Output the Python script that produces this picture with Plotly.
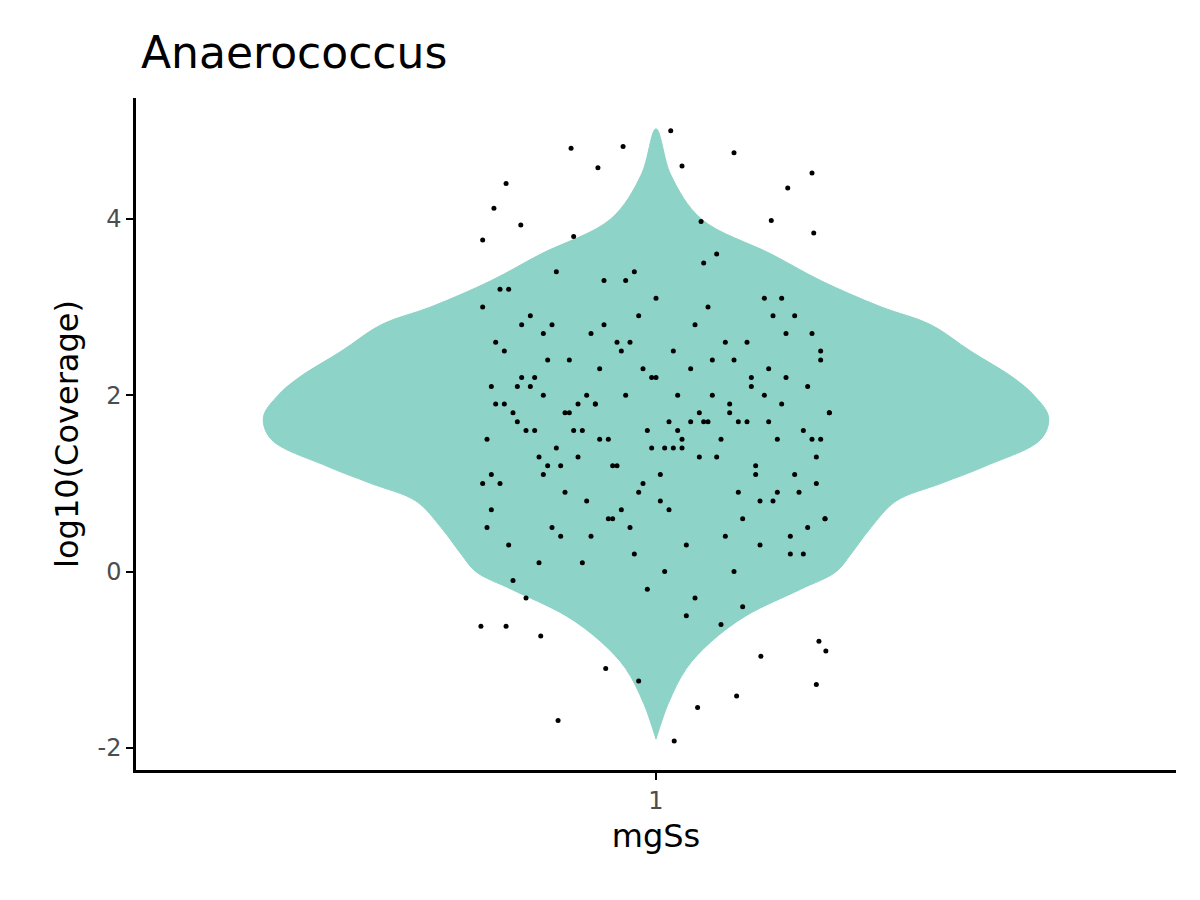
import plotly.graph_objects as go

# violin outline: y level and half-width (x units, category at x=1)
violin_y = [5.02, 4.5, 4.0, 3.6, 3.3, 3.0, 2.8, 2.5, 2.2, 2.0, 1.75, 1.5, 1.2, 1.0,
            0.8, 0.5, 0.2, 0.0, -0.2, -0.5, -0.8, -1.1, -1.5, -1.9]
violin_hw = [0.0, 0.017, 0.052, 0.133, 0.19, 0.26, 0.317, 0.363, 0.412, 0.436, 0.453,
             0.444, 0.381, 0.329, 0.277, 0.248, 0.225, 0.208, 0.167, 0.104, 0.063,
             0.035, 0.014, 0.0]

# jittered points (x, y)
pts_x = [
    0.887, 1.021, 0.942, 1.048, 1.093, 1.185, 0.902, 0.962, 1.017, 1.09, 1.18, 0.827,
    0.933, 1.03, 1.152, 0.813, 0.80, 0.844, 1.133, 1.182, 1.052, 0.798, 1.188, 1.196,
    0.827, 0.867, 1.121, 0.98,
    0.81, 0.85, 0.90, 0.95, 1.00, 1.05, 1.10, 1.15, 1.19, 0.83, 0.88, 0.93, 0.98, 1.03, 1.08, 1.13, 1.17, 0.82,
    0.87, 0.92, 0.97, 1.02, 1.07, 1.12, 1.16, 1.20, 0.84, 0.89, 0.94, 0.99, 1.04, 1.09, 1.14, 1.18, 0.80, 0.86,
    0.91, 0.96, 1.01, 1.06, 1.11, 1.165, 0.815, 0.865, 0.915, 0.965, 1.015, 1.065, 1.115, 1.195, 0.835, 0.885,
    0.935, 0.985, 1.035, 1.085, 1.135, 1.175, 0.805, 0.855, 0.905, 0.955, 1.005, 1.055, 1.105, 1.155, 0.825, 0.875,
    0.925, 0.975, 1.025, 1.075, 1.125, 1.185, 0.845, 0.895, 0.945, 0.995, 1.045, 1.095, 1.145, 1.19, 0.81, 0.86,
    0.91, 0.96, 1.01, 1.06, 1.11, 1.16, 0.83, 0.88, 0.93, 0.98, 1.03, 1.08, 1.13, 1.2, 0.82, 0.87,
    0.92, 0.97, 1.02, 1.07, 1.12, 1.17, 0.84, 0.89, 0.94, 0.99, 1.04, 1.09, 1.14, 1.18, 0.80, 0.85,
    0.90, 0.95, 1.00, 1.05, 1.10, 1.15, 0.815, 0.865, 0.915, 0.965, 1.015, 1.065, 1.115, 1.19, 0.835, 0.885,
    0.935, 0.985, 1.035, 1.085, 1.135, 1.175, 0.805, 0.855, 0.905, 0.955, 1.005, 1.055, 1.105, 1.155, 0.825, 0.875,
    0.925, 0.975, 1.025, 1.075, 1.125, 1.185, 0.845, 0.895, 0.945, 0.995, 1.045, 1.095, 1.145, 1.195, 0.81, 0.87,
]
pts_y = [
    -1.69, -1.92, -1.10, -1.54, -1.41, -1.28, 4.80, 4.82, 5.00, 4.75, 4.52, 4.40,
    4.58, 4.60, 4.35, 4.12, 3.76, 3.93, 3.98, 3.84, 3.97, -0.62, -0.79, -0.90,
    -0.62, -0.73, -0.96, -1.24,
    2.1, 1.6, 2.4, 1.2, 3.1, 1.8, 0.6, 2.2, 1.5, 0.3, 2.8, 1.9, 0.9, 1.4, 2.6, 1.7, 0.2, 3.2,
    1.1, 2.0, 0.5, 2.5, 1.3, 0.8, 2.9, 1.8, 1.7, 0.4, 3.3, 1.6, 2.3, 0.0, 1.5, 2.7, 1.0, 2.2,
    1.9, 0.7, 1.4, 3.0, 2.1, 0.9, 2.6, 1.3, 0.1, 2.0, 1.7, 2.4, 1.2, 0.6, 1.8, 3.4,
    1.5, 2.3, 0.3, 1.9, 0.8, 2.1, 0.5, 2.9, 1.6, 2.6, 1.1, 3.5, 1.7, 0.4, 2.5, 1.2,
    2.7, 0.2, 2.0, 1.5, 3.1, 1.0, 2.2, 1.8, 0.6, 1.4, 2.8, 0.9, 1.9, 2.4, 0.7, 1.6,
    1.3, 2.5, 0.0, 1.7, 2.2, 1.1, 3.2, 0.5, 1.9, 2.9, 1.5, 0.4, 2.3, 1.8, 1.0, 2.0,
    0.8, 2.6, 1.4, 3.6, 0.3, 1.6, 2.1, 1.2, 2.8, -0.2, 1.7, 2.4, 0.9, 1.5, 3.0, -0.3,
    1.8, 0.6, 2.2, 1.3, -0.4, 2.7, 1.9, 0.1, 1.6, 3.3, 0.7, 2.0, 1.1, 2.5, -0.1, 1.4,
    2.3, 1.0, -0.5, 1.8, 2.9, 0.5, 1.5, 2.1, 3.8, 1.2, 0.8, 1.7, 2.6, 0.2, 1.9, 2.4,
    0.4, 3.4, 1.6, -0.6, 2.0, 1.3, 2.8, 0.9, 1.5, 2.2, -0.3, 1.7, 3.1, 0.6, 1.1, 2.7,
]

y_ticks = [-2, 0, 2, 4]
y_ticktext = ["-2", "0", "2", "4"]

yy = violin_y + violin_y[::-1]
xx = [1 - w for w in violin_hw] + [1 + w for w in violin_hw[::-1]]

fig = go.Figure()
fig.add_trace(go.Scatter(x=xx, y=yy, mode="lines", fill="toself", fillcolor="#8DD3C7",
                         line=dict(color="#8DD3C7", width=1, shape="spline"),
                         hoverinfo="skip", showlegend=False))
fig.add_trace(go.Scatter(x=pts_x, y=pts_y, mode="markers",
                         marker=dict(color="black", size=5), showlegend=False))

fig.update_layout(
    width=1200, height=900,
    margin=dict(l=128, r=32, t=90, b=138),
    plot_bgcolor="white", paper_bgcolor="white",
    font=dict(family="DejaVu Sans", color="black"),
    title=dict(text="Anaerococcus", x=133 / 1200, xanchor="left", y=1 - 45 / 900, yanchor="middle",
               font=dict(size=44)),
    xaxis=dict(range=[0.4, 1.6], tickvals=[1], ticktext=["1"], showgrid=False, zeroline=False,
               showline=True, linecolor="black", linewidth=2.5, ticks="outside", ticklen=7,
               tickwidth=2, tickcolor="black", tickfont=dict(size=24, color="#4D4D4D"),
               title=dict(text="mgSs", font=dict(size=32), standoff=12)),
    yaxis=dict(range=[-2.25, 5.37], tickvals=y_ticks, ticktext=y_ticktext, showgrid=False,
               zeroline=False, showline=True, linecolor="black", linewidth=2.5, ticks="outside",
               ticklen=7, tickwidth=2, tickcolor="black", tickfont=dict(size=24, color="#4D4D4D"),
               title=dict(text="log10(Coverage)", font=dict(size=32), standoff=10)),
)

fig.write_html("out.html")
